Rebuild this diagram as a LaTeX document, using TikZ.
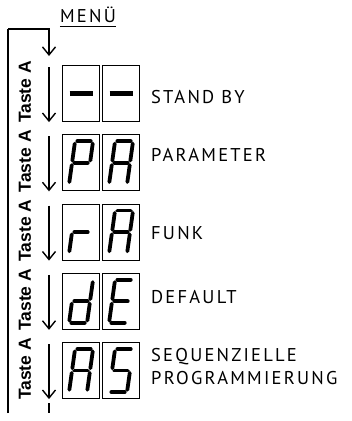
\documentclass[tikz,border=0pt]{standalone}
\usepackage{fontspec}
\setmainfont{PT Sans}
\newfontfamily\labfont[LetterSpace=12]{PT Sans}
\newfontfamily\tastefont{Liberation Sans Bold}
\usetikzlibrary{arrows.meta}
\tikzset{
  wire/.style={line width=1.2bp},
  flow/.style={line width=1.2bp, -{Straight Barb[length=8bp,width=13bp,line width=1.4bp]}},
  digitbox/.style={draw, line width=1.1bp, minimum width=37bp, minimum height=56bp, inner sep=0pt, anchor=north west},
  seg/.style={line width=3.8bp, line cap=round, shorten <=2.3bp, shorten >=2.3bp},
  lab/.style={anchor=west, inner sep=0pt, font=\labfont\fontsize{18.5bp}{21bp}\selectfont},
  taste/.style={rotate=90, inner sep=0pt, font=\tastefont\fontsize{17.5bp}{20bp}\selectfont},
  sga/.style={insert path={(-.5,.5)--(.5,.5)}},
  sgb/.style={insert path={(.5,.5)--(.5,0)}},
  sgc/.style={insert path={(.5,0)--(.5,-.5)}},
  sgd/.style={insert path={(-.5,-.5)--(.5,-.5)}},
  sge/.style={insert path={(-.5,-.5)--(-.5,0)}},
  sgf/.style={insert path={(-.5,0)--(-.5,.5)}},
  sgg/.style={insert path={(-.5,0)--(.5,0)}},
}
\newcommand\ssdigit[2]{%
  \begin{scope}[shift={(#1)}, x={(18bp,0bp)}, y={(6bp,43bp)}]
    \foreach \s in {#2} { \draw[seg, sg\s]; }
  \end{scope}}
\begin{document}
\begin{tikzpicture}[x=1bp, y=-1bp]
\useasboundingbox (0,0) rectangle (352,421);

% title
\node[font=\labfont\fontsize{18.5bp}{21bp}\selectfont, inner sep=0pt, anchor=base] (menu) at (88,22) {MENÜ};
\draw[line width=1bp] ([yshift=-4bp]menu.base west) -- ([yshift=-4bp]menu.base east);

% loop line
\coordinate (c0) at (8,29);
\coordinate (c1) at (49,29);
\coordinate (c2) at (49,56);
\coordinate (cb) at (8,413);
\draw[wire] (cb) -- (c0);
\draw[flow] (c0) -- (c1) -- (c2);

% digit boxes
\node[digitbox] (b1l) at (62,65) {};
\node[digitbox] (b1r) at (102,65) {};
\node[digitbox] (b2l) at (62,134.25) {};
\node[digitbox] (b2r) at (102,134.25) {};
\node[digitbox] (b3l) at (62,203.5) {};
\node[digitbox] (b3r) at (102,203.5) {};
\node[digitbox] (b4l) at (62,272.75) {};
\node[digitbox] (b4r) at (102,272.75) {};
\node[digitbox] (b5l) at (62,342) {};
\node[digitbox] (b5r) at (102,342) {};

% characters
\draw[line width=5bp] ([xshift=-11.5bp]b1l.center) -- ([xshift=11.5bp]b1l.center);
\draw[line width=5bp] ([xshift=-11.5bp]b1r.center) -- ([xshift=11.5bp]b1r.center);
\ssdigit{b2l.center}{a,b,e,f,g}
\ssdigit{b2r.center}{a,b,c,e,f,g}
\ssdigit{b3l.center}{e,g}
\ssdigit{b3r.center}{a,b,c,e,f,g}
\ssdigit{b4l.center}{b,c,d,e,g}
\ssdigit{b4r.center}{a,d,e,f,g}
\ssdigit{b5r.center}{a,f,g,c,d}
\ssdigit{b5l.center}{a,b,c,e,f,g}

% step arrows
\coordinate (s1) at (49,67);
\coordinate (s2) at (49,136.25);
\coordinate (s3) at (49,205.5);
\coordinate (s4) at (49,274.75);
\coordinate (s5) at (49,344);
\draw[flow] (s1) -- (s1 |- b1l.south);
\draw[flow] (s2) -- (s2 |- b2l.south);
\draw[flow] (s3) -- (s3 |- b3l.south);
\draw[flow] (s4) -- (s4 |- b4l.south);
\draw[flow] (s5) -- (s5 |- b5l.south);
\coordinate (e1) at (49,403);
\coordinate (e2) at (49,413);
\draw[wire] (e1) -- (e2);

% vertical key labels
\node[taste] (t1) at (25,92) {Taste A};
\node[taste] (t2) at (25,161.25) {Taste A};
\node[taste] (t3) at (25,230.5) {Taste A};
\node[taste] (t4) at (25,299.75) {Taste A};
\node[taste] (t5) at (25,369) {Taste A};

% labels
\node[lab] (l1) at (151,97) {STAND BY};
\node[lab] (l2) at (151,155) {PARAMETER};
\node[lab] (l3) at (151,233) {FUNK};
\node[lab] (l4) at (151,297) {DEFAULT};
\node[lab] (l5) at (151,357) {SEQUENZIELLE};
\node[lab] (l6) at (151,378) {PROGRAMMIERUNG};
\end{tikzpicture}
\end{document}
